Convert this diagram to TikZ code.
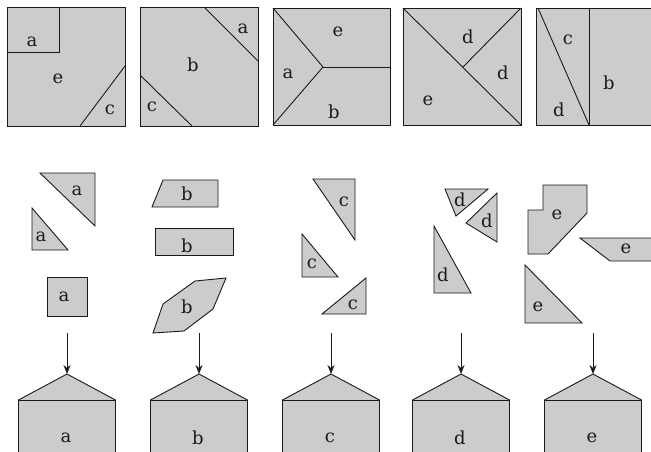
\documentclass[tikz,border=0pt]{standalone}
\usepackage{fontspec}
\setmainfont{DejaVu Serif}
\usetikzlibrary{arrows.meta}
\definecolor{piece}{HTML}{CCCCCC}
\definecolor{ink}{HTML}{1A1A1A}
\tikzset{
  pc/.style={fill=piece,draw=ink,line width=0.9pt,line join=miter},
  ln/.style={draw=ink,line width=0.9pt},
  lb/.style={font=\fontsize{18}{18}\selectfont,text=ink,inner sep=0pt},
  arr/.style={draw=ink,line width=0.9pt,-{Stealth[length=9pt,width=7pt]}}
}
\begin{document}
\begin{tikzpicture}[x=1pt,y=-1pt]
\useasboundingbox (0,0) rectangle (651,451);
% ---------- top row squares ----------
% square 1
\draw[pc] (7,7) rectangle (125,126);
\draw[ln] (7,52) -- (59,52) -- (59,7);
\draw[ln] (125,66) -- (80,126);
\node[lb] (t1a) at (32,42) {a};
\node[lb] (t1e) at (58,79) {e};
\node[lb] (t1c) at (110,110) {c};
% square 2
\draw[pc] (140,7) rectangle (258,126);
\draw[ln] (204,7) -- (258,61);
\draw[ln] (140,75) -- (192,126);
\node[lb] (t2a) at (243,29) {a};
\node[lb] (t2b) at (193,65) {b};
\node[lb] (t2c) at (152,107) {c};
% square 3
\draw[pc] (273,8) rectangle (390,125);
\draw[ln] (273,8) -- (323,67) -- (273,125);
\draw[ln] (323,67) -- (390,67);
\node[lb] (t3e) at (338,32) {e};
\node[lb] (t3a) at (288,74) {a};
\node[lb] (t3b) at (334,112) {b};
% square 4
\draw[pc] (403,8) rectangle (521,125);
\draw[ln] (403,8) -- (521,125);
\draw[ln] (521,8) -- (463,67);
\node[lb] (t4d1) at (468,37) {d};
\node[lb] (t4d2) at (503,73) {d};
\node[lb] (t4e) at (428,101) {e};
% square 5
\draw[pc] (536,8) rectangle (654,125);
\draw[ln] (589,8) -- (589,125);
\draw[ln] (538,8) -- (589,125);
\node[lb] (t5c) at (568,40) {c};
\node[lb] (t5d) at (559,110) {d};
\node[lb] (t5b) at (609,83) {b};
% ---------- middle row pieces ----------
% a pieces
\draw[pc] (40,173) -- (95,173) -- (95,226) -- cycle;
\node[lb] (ma1) at (77,191) {a};
\draw[pc] (32,208) -- (32,250) -- (68,250) -- cycle;
\node[lb] (ma2) at (41,237) {a};
\draw[pc] (47,277) rectangle (87,316);
\node[lb] (ma3) at (64,297) {a};
% b pieces
\draw[pc] (152,207) -- (163,180) -- (218,180) -- (218,207) -- cycle;
\node[lb] (mb1) at (187,194) {b};
\draw[pc] (155,228) rectangle (233,255);
\node[lb] (mb2) at (187,246) {b};
\draw[pc] (153,333) -- (163,304) -- (195,281) -- (226,278) -- (213,309) -- (184,331) -- cycle;
\node[lb] (mb3) at (187,307) {b};
% c pieces
\draw[pc] (313,179) -- (355,179) -- (355,240) -- cycle;
\node[lb] (mc1) at (344,202) {c};
\draw[pc] (302,234) -- (302,277) -- (338,277) -- cycle;
\node[lb] (mc2) at (312,264) {c};
\draw[pc] (322,314) -- (366,278) -- (366,314) -- cycle;
\node[lb] (mc3) at (353,305) {c};
% d pieces
\draw[pc] (445,189) -- (488,189) -- (456,216) -- cycle;
\node[lb] (md1) at (460,200) {d};
\draw[pc] (497,193) -- (497,242) -- (466,223) -- cycle;
\node[lb] (md2) at (487,221) {d};
\draw[pc] (434,226) -- (434,293) -- (471,293) -- cycle;
\node[lb] (md3) at (443,275) {d};
% e pieces
\draw[pc] (543,185) -- (587,185) -- (587,213) -- (548,254) -- (528,254) -- (528,210) -- (543,210) -- cycle;
\node[lb] (me1) at (557,215) {e};
\draw[pc] (580,238) -- (656,238) -- (656,261) -- (610,261) -- cycle;
\node[lb] (me2) at (626,249) {e};
\draw[pc] (525,265) -- (525,323) -- (582,323) -- cycle;
\node[lb] (me3) at (538,307) {e};
% ---------- bottom row houses ----------
\foreach \cx/\hl/\nm in {67/a/ha, 199/b/hb, 331/c/hc, 461/d/hd, 593/e/he}{
  \draw[pc] (\cx-48.5,460) -- (\cx-48.5,400) -- (\cx,374) -- (\cx+48.5,400) -- (\cx+48.5,460);
  \draw[ln] (\cx-48.5,400) -- (\cx+48.5,400);
  \coordinate (\nm top) at (\cx,374);
  \coordinate (\nm src) at (\cx,333);
  \node[lb] (\nm lab) at (\cx-1,438) {\hl};
  \draw[arr] (\nm src) -- (\nm top);
}
\end{tikzpicture}
\end{document}
